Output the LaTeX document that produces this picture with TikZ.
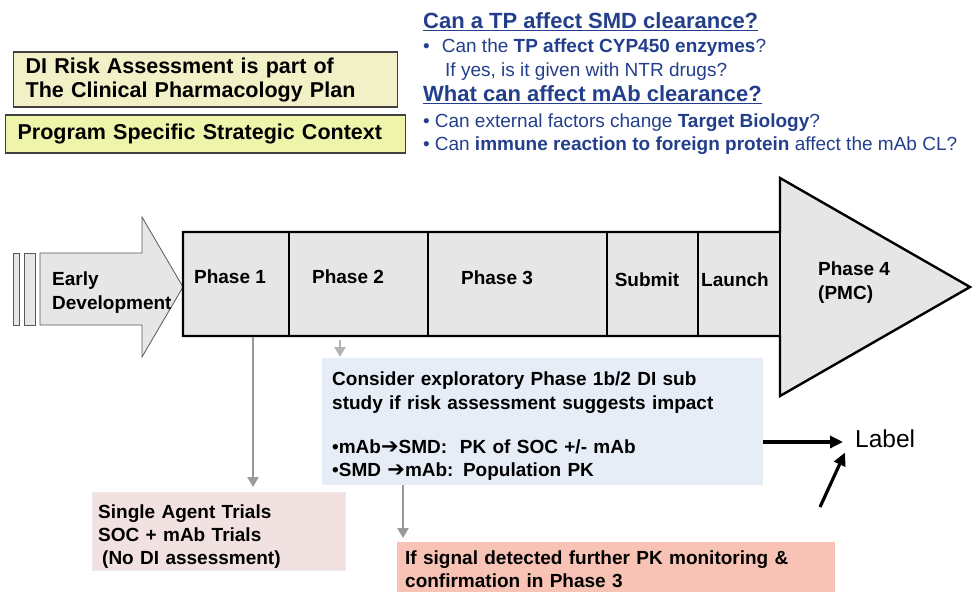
\documentclass[tikz,border=0pt]{standalone}
\usepackage{fontspec}
\setmainfont{Liberation Sans}
\newfontfamily\arrowfont{DejaVu Sans}
\usetikzlibrary{arrows.meta}

\definecolor{riskyellow}{HTML}{F1F0C6}
\definecolor{contextyellow}{HTML}{EEF4A9}
\definecolor{phasegray}{HTML}{E6E6E6}
\definecolor{questionblue}{HTML}{233F8C}
\definecolor{studyblue}{HTML}{E7EDF6}
\definecolor{trialpink}{HTML}{F1E1E0}
\definecolor{signalsalmon}{HTML}{F8C3B4}
\definecolor{linkgray}{HTML}{9A9A9A}

\newcommand{\headfont}{\fontsize{22}{26}\selectfont\bfseries}
\newcommand{\heavyarrow}{{\arrowfont\fontsize{21}{24}\selectfont ➔}}

\begin{document}
\begin{tikzpicture}[x=1pt, y=-1pt,
    every node/.style={font=\fontsize{19}{24}\selectfont\bfseries, inner sep=0pt},
    framebox/.style={draw=black!75, line width=1.3pt, anchor=west, align=left, font=\fontsize{21.5}{24}\selectfont\bfseries},
    notebox/.style={anchor=north west, align=left, inner xsep=10pt},
    question/.style={anchor=base west, text=questionblue, font=\fontsize{19}{24}\selectfont},
    link/.style={draw=linkgray, line width=2.6pt, -{Triangle[length=10pt,width=11pt]}},
    pointer/.style={line width=3.2pt, -{Triangle[length=13pt,width=12pt]}}]

    \useasboundingbox (0,0) rectangle (973,591);

    % Context boxes
    \node[framebox, fill=riskyellow, inner xsep=12pt, text width=360pt, minimum height=55pt] (risk) at (13,79.5) {
        DI Risk Assessment is part of\\
        The Clinical Pharmacology Plan
    };
    \node[framebox, fill=contextyellow, inner xsep=12pt, text width=376pt, minimum height=38pt] (context) at (5,134) {
        Program Specific Strategic Context
    };

    % Questions
    \node[question, font=\headfont] (smdq) at (423,29) {\underline{Can a TP affect SMD clearance?}};
    \node[question] (smdqa) at (423,53) {•\hspace{12pt}Can the \textbf{TP affect CYP450 enzymes}?};
    \node[question] (smdqb) at (445,77) {If yes, is it given with NTR drugs?};
    \node[question, font=\headfont] (mabq) at (423,102) {\underline{What can affect mAb clearance?}};
    \node[question] (mabqa) at (423,127) {•\hspace{5pt}Can external factors change \textbf{Target Biology}?};
    \node[question] (mabqb) at (423,150) {•\hspace{5pt}Can \textbf{immune reaction to foreign protein} affect the mAb CL?};

    % Early development arrow
    \draw[draw=black!65, fill=phasegray, line width=0.8pt] (13,253) rectangle (19,325) (24,253) rectangle (35,325);
    \draw[draw=black!65, fill=phasegray, line width=0.8pt]
        (40,253) -- (142,253) -- (142,217) -- (183,287) -- (142,357) -- (142,325) -- (40,325) -- cycle;

    % Development timeline
    \draw[line width=2.4pt, fill=phasegray]
        (183,232) -- (780,232) -- (780,178) -- (970,287) -- (780,396) -- (780,336) -- (183,336) -- cycle;
    \foreach \x in {289,428,607,698,780}
        \draw[line width=2.4pt] (\x,232) -- (\x,336);

    \node[anchor=west, align=left] (early) at (52,293) {Early\\Development};
    \node (phase1) at (230,277) {Phase 1};
    \node (phase2) at (348,277) {Phase 2};
    \node (phase3) at (497,278) {Phase 3};
    \node (submit) at (647,280) {Submit};
    \node (launch) at (735,280) {Launch};
    \node[anchor=west, align=left] (phase4) at (818,283) {Phase 4\\(PMC)};

    \coordinate (p1foot) at (253,337);
    \coordinate (p2foot) at (340,340);

    % Study box
    \node[notebox, fill=studyblue, text width=421pt, minimum height=127pt] (study) at (322,358) {
        \rule{0pt}{23pt}Consider exploratory Phase 1b/2 DI sub\\
        study if risk assessment suggests impact\\[20pt]
        •mAb\heavyarrow SMD:\ \ PK of SOC +/- mAb\\[-1pt]
        •SMD \heavyarrow mAb: Population PK
    };

    % Trials box
    \node[notebox, fill=trialpink, draw=black!8, inner xsep=6pt, text width=241pt, minimum height=78pt] (trial) at (92,492) {
        \rule{0pt}{24pt}Single Agent Trials\\[-1pt]
        SOC + mAb Trials\\[-1pt]
        \hspace{4pt}(No DI assessment)
    };

    % Signal box
    \node[notebox, fill=signalsalmon, inner xsep=8pt, text width=422pt, minimum height=54pt] (signal) at (397,542) {
        If signal detected further PK monitoring \&\\[-1pt]
        confirmation in Phase 3
    };

    % Label
    \node[anchor=west, font=\fontsize{24.5}{28}\selectfont] (label) at (855,438.5) {Label};
    \coordinate (labelin) at ([yshift=-3.5pt]label.west);
    \coordinate (labelfoot) at (820,507);
    \coordinate (sigtop) at ([xshift=6pt]signal.north west);

    % Links
    \draw[link, shorten >=5pt] (p1foot) -- (p1foot |- trial.north);
    \draw[link, draw=linkgray!75, shorten >=1pt] (p2foot) -- (p2foot |- study.north);
    \draw[link, shorten >=4pt] (study.south -| sigtop) -- (sigtop);
    \draw[pointer, shorten >=12pt] (study.east |- labelin) -- (labelin);
    \draw[pointer] (labelfoot) -- ([xshift=-10pt,yshift=-14pt]label.west);

\end{tikzpicture}
\end{document}
